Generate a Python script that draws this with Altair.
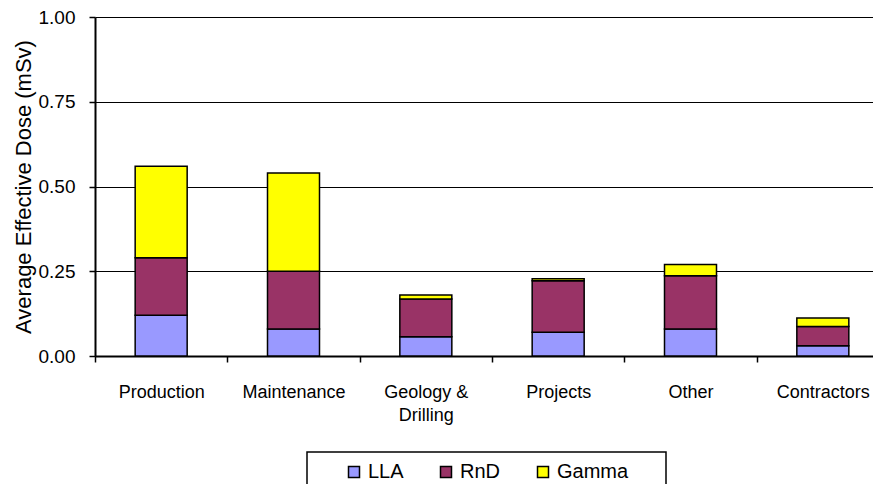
import altair as alt
import pandas as pd

categories = ["Production", "Maintenance", "Geology & Drilling", "Projects", "Other", "Contractors"]
series = ["LLA", "RnD", "Gamma"]
lla = [0.12, 0.08, 0.057, 0.07, 0.08, 0.03]
rnd = [0.17, 0.17, 0.111, 0.152, 0.157, 0.057]
gamma = [0.27, 0.29, 0.012, 0.006, 0.033, 0.025]
colors = ["#9999FF", "#993366", "#FFFF00"]
y_ticks = [0, 0.25, 0.5, 0.75, 1.0]

rows = []
for i, c in enumerate(categories):
    for j, (s, vals) in enumerate(zip(series, [lla, rnd, gamma])):
        rows.append({"category": c, "series": s, "value": vals[i], "order": j})
df = pd.DataFrame(rows)

FONT = "Liberation Sans"
PAD_TAIL = "\u00a0" * 5 + "\u200b"

chart = alt.Chart(df).mark_bar(size=52, stroke="black", strokeWidth=1.5).encode(
    x=alt.X(
        "category:N", sort=categories, title=None,
        scale=alt.Scale(paddingInner=0, paddingOuter=0),
        axis=alt.Axis(
            labelAngle=0, labelFontSize=18, labelFont=FONT, labelColor="black",
            labelPadding=21, labelLineHeight=23,
            labelExpr="datum.value == 'Geology & Drilling' ? ['Geology &', 'Drilling'] : datum.label",
            tickBand="extent", ticks=True, tickSize=6, tickColor="black", tickWidth=1.5,
            domainColor="black", domainWidth=2, grid=False,
        ),
    ),
    y=alt.Y(
        "value:Q", stack="zero",
        scale=alt.Scale(domain=[0, 1], nice=False),
        axis=alt.Axis(
            values=y_ticks, format=".2f", title="Average Effective Dose (mSv)",
            titleFont=FONT, titleFontSize=22, titleFontWeight="normal", titleColor="black",
            titlePadding=3,
            labelFont=FONT, labelFontSize=19, labelColor="black", labelPadding=14,
            tickSize=6, tickColor="black", tickWidth=1.5,
            domainColor="black", domainWidth=2,
            grid=True, gridColor="black", gridWidth=1,
        ),
    ),
    color=alt.Color(
        "series:N", sort=series,
        scale=alt.Scale(domain=series, range=colors),
        legend=alt.Legend(
            orient="none", legendX=212, legendY=435, direction="horizontal",
            title=" ", titleOrient="left", titleFontSize=10, titlePadding=27,
            padding=10, strokeColor="black",
            symbolType="square", symbolSize=121, symbolStrokeColor="black",
            symbolStrokeWidth=1.5, symbolOpacity=1,
            labelFont=FONT, labelFontSize=20, labelColor="black", labelOffset=4,
            columnPadding=32,
            labelExpr="datum.label == 'Gamma' ? 'Gamma" + PAD_TAIL + "' : datum.label",
        ),
    ),
    order=alt.Order("order:Q"),
).properties(
    width=794, height=339,
    autosize=alt.AutoSizeParams(type="none"),
    padding={"left": 87, "top": 9, "right": -16, "bottom": 128},
).configure_view(strokeWidth=0).configure_legend(strokeWidth=1.5)

chart.save("out.html", embed_options={"renderer": "svg", "actions": False})
